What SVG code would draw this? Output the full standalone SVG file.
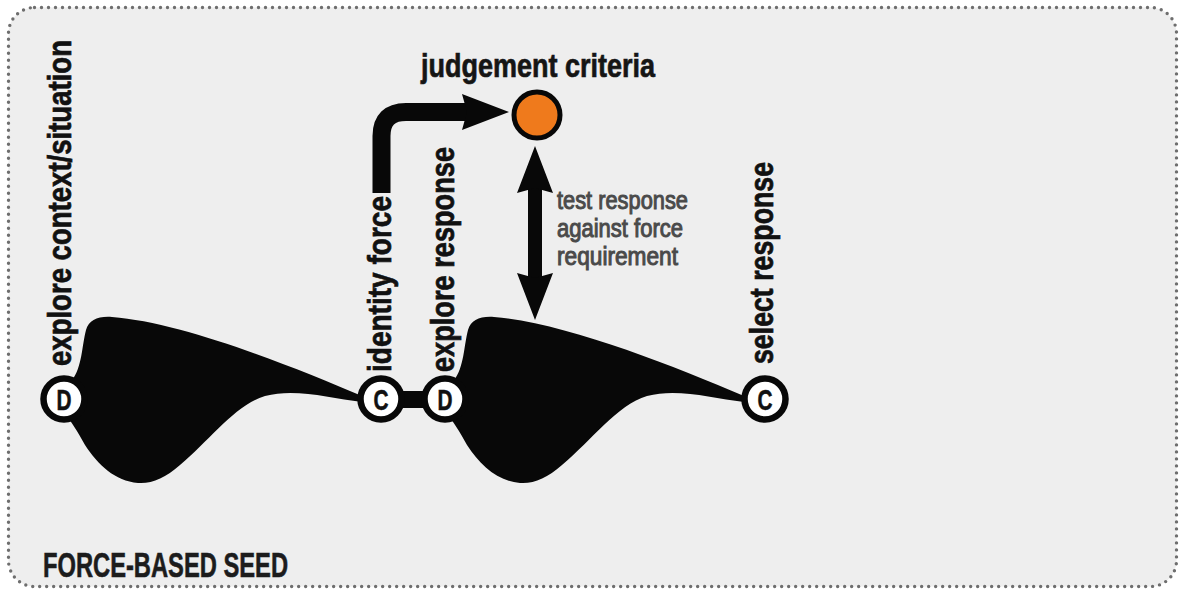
<svg xmlns="http://www.w3.org/2000/svg" width="1180" height="593" viewBox="0 0 1180 593">
  <defs>
    <style>
      .frame { fill: #eeeeee; stroke: #6e6e6e; stroke-width: 3.4; stroke-dasharray: 0 7; stroke-linecap: round; }
      .blob { fill: #080808; }
      .ring { fill: #ffffff; stroke: #080808; stroke-width: 6.5; }
      .letter { font-family: "Liberation Sans", Arial, sans-serif; font-weight: bold; font-size: 30px; fill: #111; stroke: #111; stroke-width: 0.6; text-anchor: middle; }
      .vlabel { font-family: "Liberation Sans", Arial, sans-serif; font-weight: bold; font-size: 33px; fill: #111; stroke: #111; stroke-width: 0.7; }
      .title { font-family: "Liberation Sans", Arial, sans-serif; font-weight: bold; font-size: 34px; fill: #151515; stroke: #151515; stroke-width: 0.7; }
      .note { font-family: "Liberation Sans", Arial, sans-serif; font-size: 25px; fill: #4a4a4a; stroke: #4a4a4a; stroke-width: 1; }
      .seed { font-family: "Liberation Sans", Arial, sans-serif; font-weight: bold; font-size: 35px; fill: #1c1c1c; stroke: #1c1c1c; stroke-width: 0.6; }
      .shaft { fill: none; stroke: #080808; }
      .head { fill: #080808; }
    </style>
    <!-- diverge/converge lobe, drawn from the D node out to the C node -->
    <path id="lobe" d="M 72 380 C 82 368, 82 345, 86 330 C 89 320, 98 316, 112 317 C 180 322, 290 365, 362 396 L 362 402 C 330 398, 295 388, 265 396 C 235 405, 210 440, 180 465 C 165 478, 152 484, 138 483 C 115 481, 98 465, 85 445 C 78 432, 70 420, 66 415 Z"/>
  </defs>

  <rect x="0" y="0" width="1180" height="593" fill="#ffffff"/>
  <rect class="frame" x="8.5" y="7.5" width="1168" height="579" rx="26" ry="26"/>

  <!-- lobes -->
  <g id="lobe-1"><use href="#lobe" class="blob"/></g>
  <g id="lobe-2"><use href="#lobe" class="blob" transform="translate(382,0)"/></g>

  <!-- connectors -->
  <g id="connectors">
    <rect x="395" y="391" width="36" height="17" fill="#080808"/>
    <!-- identify force -> judgement criteria -->
    <path class="shaft" stroke-width="18" d="M 381.5 193 V 136 Q 381.5 112 406 112 H 468"/>
    <polygon class="head" points="462,94 509,112 462,130 467,112"/>
    <!-- test response against criteria (two-way) -->
    <line class="shaft" stroke-width="14" x1="535" y1="188" x2="535" y2="278"/>
    <polygon class="head" points="535,146 553,193 535,188 517,193"/>
    <polygon class="head" points="535,320 553,273 535,278 517,273"/>
  </g>

  <!-- criteria node -->
  <g id="judgement-criteria">
    <circle cx="537" cy="115" r="23" fill="#ef7a1c" stroke="#080808" stroke-width="5"/>
    <text class="title" transform="translate(421,77) scale(0.794,1)" textLength="294.7" lengthAdjust="spacingAndGlyphs">judgement criteria</text>
  </g>

  <g id="test-note">
    <text class="note" transform="translate(557,209) scale(0.873,1)" textLength="150" lengthAdjust="spacingAndGlyphs">test response</text>
    <text class="note" transform="translate(557,237) scale(0.88,1)" textLength="143.2" lengthAdjust="spacingAndGlyphs">against force</text>
    <text class="note" transform="translate(557,265) scale(0.907,1)" textLength="133.4" lengthAdjust="spacingAndGlyphs">requirement</text>
  </g>

  <!-- stage nodes -->
  <g id="node-d1">
    <circle class="ring" cx="64" cy="399" r="20.5"/>
    <text class="letter" x="64" y="410" textLength="15" lengthAdjust="spacingAndGlyphs">D</text>
    <text class="vlabel" transform="translate(71,366) rotate(-90) scale(0.835,1)" textLength="390.4" lengthAdjust="spacingAndGlyphs">explore context/situation</text>
  </g>
  <g id="node-c1">
    <circle class="ring" cx="381" cy="399" r="20.5"/>
    <text class="letter" x="381" y="410" textLength="15" lengthAdjust="spacingAndGlyphs">C</text>
    <text class="vlabel" transform="translate(391,372) rotate(-90) scale(0.849,1)" textLength="207.3" lengthAdjust="spacingAndGlyphs">identity force</text>
  </g>
  <g id="node-d2">
    <circle class="ring" cx="445" cy="399" r="20.5"/>
    <text class="letter" x="445" y="410" textLength="15" lengthAdjust="spacingAndGlyphs">D</text>
    <text class="vlabel" transform="translate(454,372) rotate(-90) scale(0.823,1)" textLength="273.4" lengthAdjust="spacingAndGlyphs">explore response</text>
  </g>
  <g id="node-c2">
    <circle class="ring" cx="765" cy="399" r="20.5"/>
    <text class="letter" x="765" y="410" textLength="15" lengthAdjust="spacingAndGlyphs">C</text>
    <text class="vlabel" transform="translate(773,364) rotate(-90) scale(0.81,1)" textLength="249.4" lengthAdjust="spacingAndGlyphs">select response</text>
  </g>

  <text class="seed" transform="translate(43,577) scale(0.677,1)" textLength="361.9" lengthAdjust="spacingAndGlyphs">FORCE-BASED SEED</text>
</svg>
